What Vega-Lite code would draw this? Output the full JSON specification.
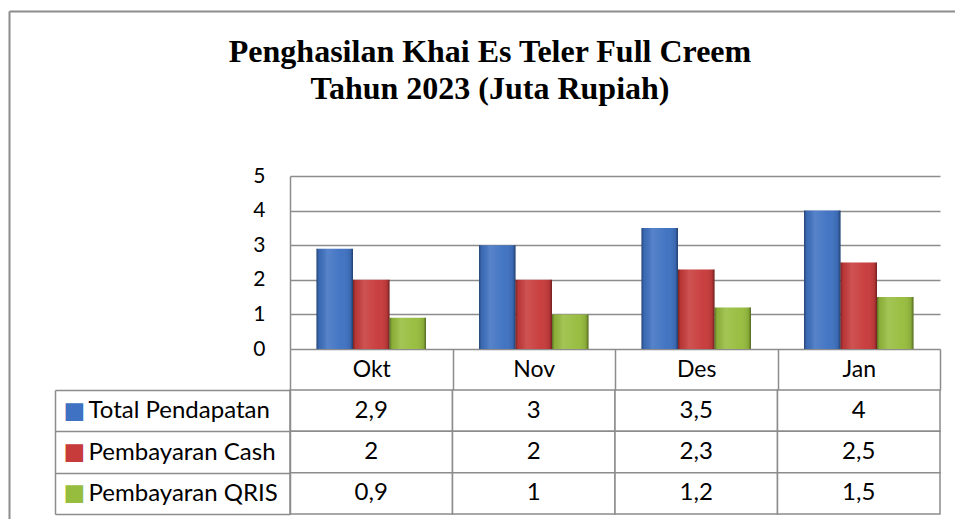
{
  "$schema": "https://vega.github.io/schema/vega-lite/v6.json",
  "padding": {"left": 8, "top": 10, "right": 0, "bottom": 0},
  "background": "white",
  "config": {
    "view": {"stroke": null},
    "font": "Lato",
    "locale": {"number": {"decimal": ",", "thousands": ".", "grouping": [3], "currency": ["", ""]}}
  },
  "title": {
    "text": ["Penghasilan Khai Es Teler Full Creem", "Tahun 2023 (Juta Rupiah)"],
    "font": "Liberation Serif",
    "fontSize": 32,
    "fontWeight": "bold",
    "lineHeight": 37,
    "anchor": "middle",
    "color": "black",
    "offset": -96,
    "dx": 6
  },
  "data": {
    "values": [
      {"month": "Okt", "series": "Total Pendapatan", "value": 2.9},
      {"month": "Okt", "series": "Pembayaran Cash", "value": 2},
      {"month": "Okt", "series": "Pembayaran QRIS", "value": 0.9},
      {"month": "Nov", "series": "Total Pendapatan", "value": 3},
      {"month": "Nov", "series": "Pembayaran Cash", "value": 2},
      {"month": "Nov", "series": "Pembayaran QRIS", "value": 1},
      {"month": "Des", "series": "Total Pendapatan", "value": 3.5},
      {"month": "Des", "series": "Pembayaran Cash", "value": 2.3},
      {"month": "Des", "series": "Pembayaran QRIS", "value": 1.2},
      {"month": "Jan", "series": "Total Pendapatan", "value": 4},
      {"month": "Jan", "series": "Pembayaran Cash", "value": 2.5},
      {"month": "Jan", "series": "Pembayaran QRIS", "value": 1.5}
    ]
  },
  "bounds": "flush",
  "spacing": 41,
  "vconcat": [
    {
      "width": 650,
      "height": 173,
      "layer": [
        {
          "mark": {"type": "bar"},
          "encoding": {
            "x": {
              "field": "month", "type": "nominal",
              "sort": ["Okt", "Nov", "Des", "Jan"],
              "scale": {"paddingInner": 0, "paddingOuter": 0},
              "axis": {
                "title": null, "orient": "bottom", "domain": false,
                "tickBand": "extent", "tickSize": 41, "tickColor": "#8c8c8c", "tickWidth": 1.5,
                "labelAngle": 0, "labelBaseline": "middle", "labelPadding": -21,
                "labelFont": "Lato", "labelFontSize": 23, "labelColor": "black"
              }
            },
            "xOffset": {
              "field": "series", "type": "nominal",
              "sort": ["Total Pendapatan", "Pembayaran Cash", "Pembayaran QRIS"],
              "scale": {"paddingInner": 0, "paddingOuter": 0.726}
            },
            "y": {
              "field": "value", "type": "quantitative",
              "scale": {"domain": [0, 5], "nice": false},
              "axis": {
                "title": null, "orient": "left", "values": [0, 1, 2, 3, 4, 5], "format": "d",
                "grid": true, "gridColor": "#8c8c8c", "gridWidth": 1.5,
                "domain": true, "domainColor": "#8c8c8c", "domainWidth": 1.5,
                "ticks": false, "labelPadding": 25,
                "labelFont": "Lato", "labelFontSize": 21, "labelColor": "black"
              }
            },
            "color": {
              "field": "series", "type": "nominal",
              "sort": ["Total Pendapatan", "Pembayaran Cash", "Pembayaran QRIS"],
              "scale": {"domain": ["Total Pendapatan", "Pembayaran Cash", "Pembayaran QRIS"], "range": ["#3f72c2", "#c83b3b", "#97bd3e"]},
              "legend": null
            }
          }
        },
        {
          "mark": {
            "type": "bar",
            "color": {
              "gradient": "linear", "x1": 0, "y1": 0, "x2": 1, "y2": 0,
              "stops": [
                {"offset": 0, "color": "rgba(0,0,0,0.40)"},
                {"offset": 0.07, "color": "rgba(0,0,0,0.08)"},
                {"offset": 0.3, "color": "rgba(255,255,255,0.12)"},
                {"offset": 0.7, "color": "rgba(255,255,255,0.02)"},
                {"offset": 0.93, "color": "rgba(0,0,0,0.10)"},
                {"offset": 1, "color": "rgba(0,0,0,0.45)"}
              ]
            }
          },
          "encoding": {
            "x": {
              "field": "month", "type": "nominal",
              "sort": ["Okt", "Nov", "Des", "Jan"],
              "scale": {"paddingInner": 0, "paddingOuter": 0},
              "axis": {
                "title": null, "orient": "top", "offset": 165,
                "values": ["Okt"], "domain": false, "labels": false, "grid": false,
                "ticks": true, "tickSize": -520, "tickOffset": -362.25,
                "tickColor": "#8c8c8c", "tickWidth": 2
              }
            },
            "xOffset": {
              "field": "series", "type": "nominal",
              "sort": ["Total Pendapatan", "Pembayaran Cash", "Pembayaran QRIS"],
              "scale": {"paddingInner": 0, "paddingOuter": 0.726}
            },
            "y": {
              "field": "value", "type": "quantitative",
              "scale": {"domain": [0, 5], "nice": false},
              "axis": {
                "title": null, "orient": "left", "offset": 281,
                "values": [5], "domain": false, "labels": false, "grid": false,
                "ticks": true, "tickSize": -950, "tickOffset": -165,
                "tickColor": "#8c8c8c", "tickWidth": 2
              }
            }
          }
        }
      ],
      "resolve": {"axis": {"x": "independent", "y": "independent"}}
    },
    {
      "width": 650,
      "height": 124,
      "encoding": {
        "x": {
          "field": "month", "type": "nominal",
          "sort": ["Okt", "Nov", "Des", "Jan"],
          "scale": {"paddingInner": 0, "paddingOuter": 0},
          "axis": null
        },
        "y": {
          "field": "series", "type": "nominal",
          "sort": ["Total Pendapatan", "Pembayaran Cash", "Pembayaran QRIS"],
          "scale": {"paddingInner": 0, "paddingOuter": 0}
        }
      },
      "layer": [
        {
          "mark": {"type": "rect", "fill": "white", "stroke": "#8c8c8c", "strokeWidth": 1.5},
          "encoding": {
            "y": {
              "field": "series", "type": "nominal",
              "sort": ["Total Pendapatan", "Pembayaran Cash", "Pembayaran QRIS"],
              "scale": {"paddingInner": 0, "paddingOuter": 0},
              "axis": {
                "title": null, "orient": "left",
                "domain": true, "domainColor": "#8c8c8c", "domainWidth": 1.5,
                "tickBand": "extent", "tickSize": 235, "tickColor": "#8c8c8c", "tickWidth": 1.5,
                "labelAlign": "left", "labelBaseline": "middle", "labelPadding": -33,
                "labelFont": "Lato", "labelFontSize": 24, "labelColor": "black", "labelLimit": 300
              }
            }
          }
        },
        {
          "mark": {"type": "text", "font": "Lato", "fontSize": 24, "color": "black"},
          "encoding": {
            "text": {"field": "value", "type": "quantitative", "format": ".1~f"},
            "y": {
              "field": "series", "type": "nominal",
              "sort": ["Total Pendapatan", "Pembayaran Cash", "Pembayaran QRIS"],
              "scale": {"paddingInner": 0, "paddingOuter": 0},
              "axis": {
                "title": null, "orient": "left", "offset": 235,
                "domain": true, "domainColor": "#8c8c8c", "domainWidth": 1.5,
                "ticks": false,
                "labelExpr": "'■'",
                "labelAlign": "left", "labelBaseline": "middle", "labelPadding": -8,
                "labelFont": "DejaVu Sans", "labelFontSize": 23,
                "labelColor": {
                  "condition": [
                    {"test": "datum.value === 'Total Pendapatan'", "value": "#3f72c2"},
                    {"test": "datum.value === 'Pembayaran Cash'", "value": "#c83b3b"}
                  ],
                  "value": "#97bd3e"
                }
              }
            }
          }
        }
      ],
      "resolve": {"axis": {"y": "independent"}}
    }
  ]
}
